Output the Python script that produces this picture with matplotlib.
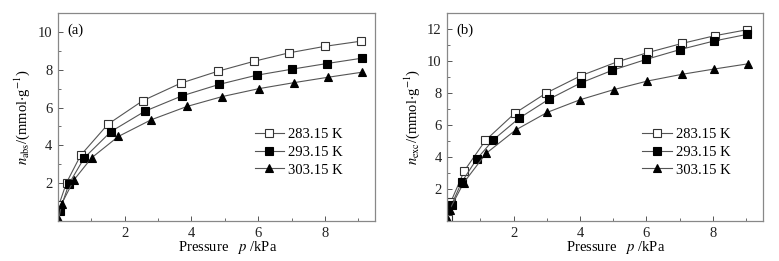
import matplotlib
matplotlib.use("Agg")
import matplotlib.pyplot as plt
from matplotlib.ticker import MultipleLocator, FixedLocator

plt.rcParams['font.family'] = ['Liberation Serif', 'DejaVu Serif']
plt.rcParams['mathtext.fontset'] = 'stix'

labels = ["283.15 K", "293.15 K", "303.15 K"]

# (a) absolute adsorption
pa_283 = [0.03, 0.26, 0.68, 1.50, 2.55, 3.68, 4.79, 5.88, 6.91, 8.00, 9.07]
na_283 = [0.85, 2.03, 3.47, 5.12, 6.37, 7.29, 7.92, 8.45, 8.89, 9.24, 9.51]
pa_293 = [0.06, 0.33, 0.79, 1.59, 2.61, 3.72, 4.84, 5.95, 7.01, 8.06, 9.10]
na_293 = [0.55, 1.96, 3.34, 4.73, 5.81, 6.62, 7.23, 7.71, 8.03, 8.33, 8.61]
pa_303 = [0.02, 0.11, 0.48, 1.01, 1.81, 2.79, 3.87, 4.92, 6.02, 7.08, 8.08, 9.11]
na_303 = [0.03, 0.90, 2.17, 3.34, 4.47, 5.35, 6.06, 6.58, 7.00, 7.32, 7.60, 7.87]

# (b) excess adsorption
pb_283 = [0.02, 0.11, 0.51, 1.15, 2.03, 2.98, 4.02, 5.13, 6.06, 7.07, 8.05, 9.04]
nb_283 = [0.10, 1.21, 3.13, 5.04, 6.73, 8.00, 9.08, 9.96, 10.54, 11.10, 11.58, 11.96]
pb_293 = [0.13, 0.43, 0.88, 1.39, 2.16, 3.05, 4.02, 4.97, 5.99, 7.00, 8.03, 9.04]
nb_293 = [1.02, 2.42, 3.85, 5.08, 6.42, 7.60, 8.63, 9.42, 10.10, 10.71, 11.25, 11.67]
pb_303 = [0.01, 0.07, 0.49, 1.17, 2.06, 3.01, 4.00, 5.01, 6.03, 7.07, 8.04, 9.07]
nb_303 = [0.05, 0.71, 2.38, 4.23, 5.69, 6.79, 7.58, 8.21, 8.75, 9.17, 9.50, 9.83]

fig = plt.figure(figsize=(7.79, 2.61), dpi=100)
ax1 = fig.add_axes([0.0743, 0.1533, 0.4071, 0.7967])
ax2 = fig.add_axes([0.5742, 0.1533, 0.4048, 0.7967])

marker_kw = [
    dict(marker="s", mfc="white", mec="#333333"),
    dict(marker="s", mfc="black", mec="black"),
    dict(marker="^", mfc="black", mec="black"),
]

def draw(ax, series, ylim, yticks, sub, tag):
    for (x, y), lab, mk in zip(series, labels, marker_kw):
        ax.plot(x, y, color="#555555", lw=0.8, ms=5.2, mew=0.8, label=lab, **mk)
    ax.set_xlim(0, 9.5)
    ax.set_ylim(0, ylim)
    ax.xaxis.set_major_locator(FixedLocator([2, 4, 6, 8]))
    ax.xaxis.set_minor_locator(MultipleLocator(1))
    ax.yaxis.set_major_locator(FixedLocator(yticks))
    ax.yaxis.set_minor_locator(MultipleLocator(1))
    ax.tick_params(which="both", direction="in", top=False, right=False,
                   labelsize=10.5, color="#555555", labelcolor="#222222")
    ax.tick_params(which="major", length=3.5, width=0.7, pad=4)
    ax.tick_params(which="minor", length=2, width=0.6)
    for s in ax.spines.values():
        s.set_color("#888888")
        s.set_linewidth(0.9)
    ax.set_xlabel(r"Pressure   $\it{p}$ /kPa", fontsize=10.5, labelpad=1)
    ax.xaxis.set_label_coords(0.535, -0.085, transform=ax.transAxes)
    ax.xaxis.label.set_va("top")
    ax.set_ylabel(r"$\it{n}_{\rm %s}$/(mmol$\cdot$g$^{-1}$)" % sub, fontsize=10.5, labelpad=4)
    ax.text(0.03, 0.95, tag, transform=ax.transAxes, fontsize=10.5, va="top")
    ax.legend(loc="center right", bbox_to_anchor=(0.94, 0.33), frameon=False,
              fontsize=10.5, handlelength=2.0, handletextpad=0.3, labelspacing=0.3)

draw(ax1, [(pa_283, na_283), (pa_293, na_293), (pa_303, na_303)], 11,
     [2, 4, 6, 8, 10], "abs", "(a)")
draw(ax2, [(pb_283, nb_283), (pb_293, nb_293), (pb_303, nb_303)], 13,
     [2, 4, 6, 8, 10, 12], "exc", "(b)")

fig.savefig("out.png", dpi=100)
